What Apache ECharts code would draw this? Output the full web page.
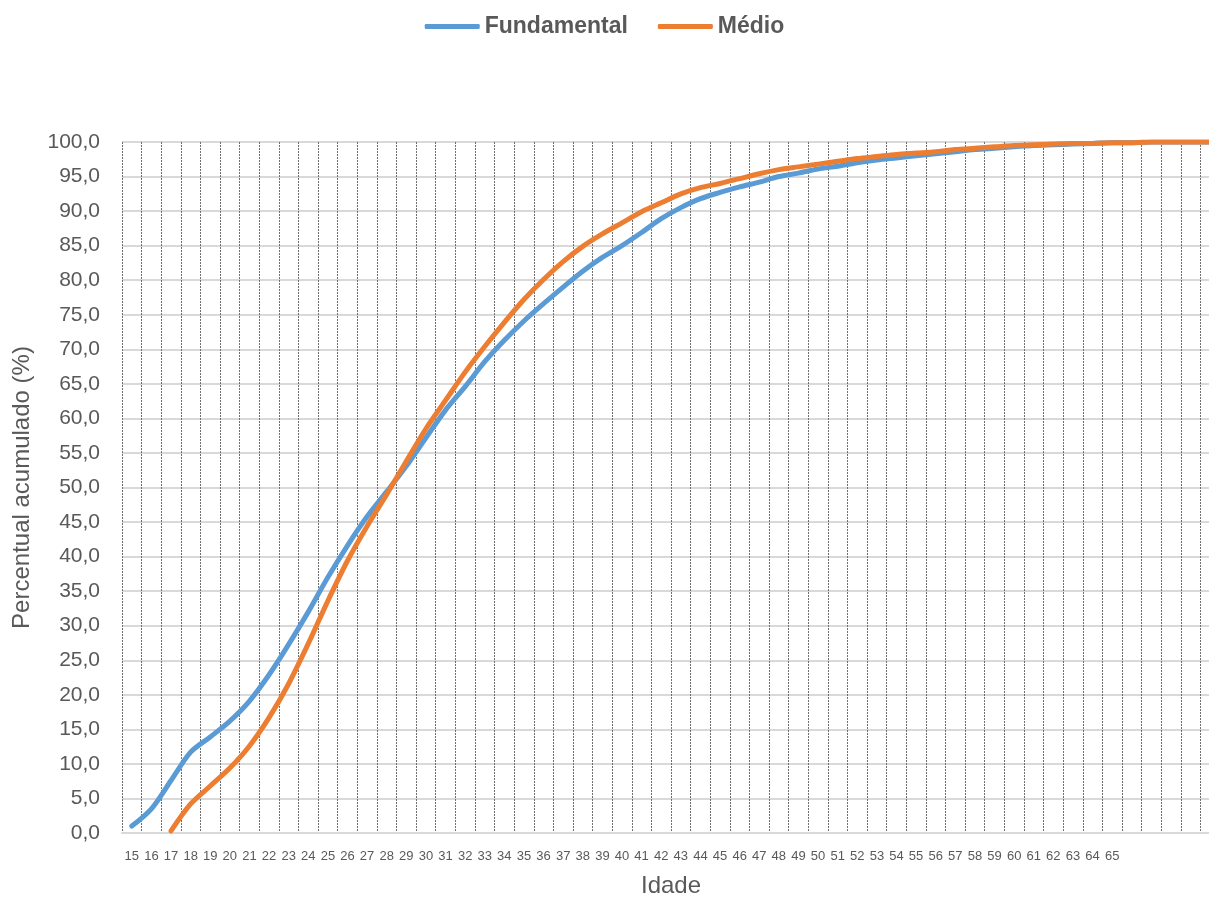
<!DOCTYPE html>
<html>
<head>
<meta charset="utf-8">
<script src="https://cdn.jsdelivr.net/npm/echarts@6/dist/echarts.min.js"></script>
<style>
html,body{margin:0;padding:0;background:#fff;overflow:hidden;}
#chart{width:1209px;height:897px;}
</style>
</head>
<body>
<div id="chart"></div>
<script>
// Categories (ages 15..70; labels shown only up to 65)
const ages = [];
for (let a = 15; a <= 70; a++) ages.push(String(a));
const tickLabels = ages.map(a => (Number(a) <= 65 ? a : ''));

const fundamental = [1.0, 3.5, 7.6, 11.7, 13.9, 16.2, 19.1, 22.9, 27.3, 32.0,
  37.0, 41.6, 45.8, 49.4, 53.1, 57.2, 61.2, 64.6, 68.2, 71.3,
  74.1, 76.6, 79.0, 81.3, 83.3, 85.0, 86.9, 88.9, 90.5, 91.8,
  92.7, 93.5, 94.2, 95.0, 95.5, 96.1, 96.5, 97.0, 97.4, 97.7,
  98.0, 98.3, 98.6, 98.9, 99.1, 99.3, 99.5, 99.6, 99.7, 99.8,
  99.9, 99.9, 100, 100, 100, 100];

const medio = [null, null, 0.3, 4.2, 6.8, 9.4, 12.6, 16.7, 21.6, 27.4,
  33.6, 39.4, 44.4, 49.0, 53.8, 58.5, 62.6, 66.7, 70.4, 73.9,
  77.2, 80.1, 82.7, 84.9, 86.7, 88.3, 89.9, 91.2, 92.5, 93.4,
  94.0, 94.7, 95.4, 96.0, 96.4, 96.8, 97.2, 97.6, 97.9, 98.2,
  98.4, 98.6, 98.9, 99.1, 99.3, 99.5, 99.6, 99.7, 99.8, 99.8,
  99.9, 99.9, 100, 100, 100, 100];

const chart = echarts.init(document.getElementById('chart'));
const FONT = 'Liberation Sans';
chart.setOption({
  animation: false,
  textStyle: { fontFamily: FONT },
  legend: {
    top: 10,
    left: 'center',
    itemWidth: 55,
    itemHeight: 5,
    itemGap: 30,
    icon: 'roundRect',
    textStyle: { fontFamily: FONT, fontSize: 23, fontWeight: 'bold', color: '#595959' },
    data: ['Fundamental', 'Médio']
  },
  grid: { left: 122, width: 1098, top: 142, bottom: 64, containLabel: false, outerBoundsMode: 'none' },
  xAxis: {
    type: 'category',
    data: ages,
    boundaryGap: true,
    name: 'Idade',
    nameLocation: 'middle',
    nameGap: 41,
    nameTextStyle: { fontFamily: FONT, fontSize: 24, color: '#595959' },
    axisLine: { lineStyle: { color: '#d9d9d9', width: 2 } },
    axisTick: { alignWithLabel: true, length: 5, lineStyle: { color: '#d9d9d9', width: 2 } },
    axisLabel: {
      interval: 0, fontSize: 13, color: '#595959', margin: 17,
      formatter: (v, i) => tickLabels[i]
    },
    splitLine: { show: true, lineStyle: { color: '#6f6f6f', width: 1, type: [2, 1] } }
  },
  yAxis: {
    type: 'value',
    min: 0, max: 100, interval: 5,
    name: 'Percentual acumulado (%)',
    nameLocation: 'middle',
    nameGap: 88,
    nameRotate: 90,
    nameTextStyle: { fontFamily: FONT, fontSize: 24, color: '#595959' },
    axisLine: { show: false },
    axisTick: { show: false },
    axisLabel: {
      fontSize: 21, color: '#595959', margin: 22,
      formatter: v => v.toFixed(1).replace('.', ',')
    },
    splitLine: { show: true, lineStyle: { color: '#d9d9d9', width: 2 } }
  },
  series: [
    {
      name: 'Fundamental', type: 'line', data: fundamental,
      smooth: 0.3, showSymbol: false, symbol: 'none',
      lineStyle: { color: '#5B9BD5', width: 5, cap: 'round', join: 'round' },
      itemStyle: { color: '#5B9BD5' }
    },
    {
      name: 'Médio', type: 'line', data: medio,
      smooth: 0.3, showSymbol: false, symbol: 'none',
      lineStyle: { color: '#ED7D31', width: 5, cap: 'round', join: 'round' },
      itemStyle: { color: '#ED7D31' }
    }
  ]
});
</script>
</body>
</html>
